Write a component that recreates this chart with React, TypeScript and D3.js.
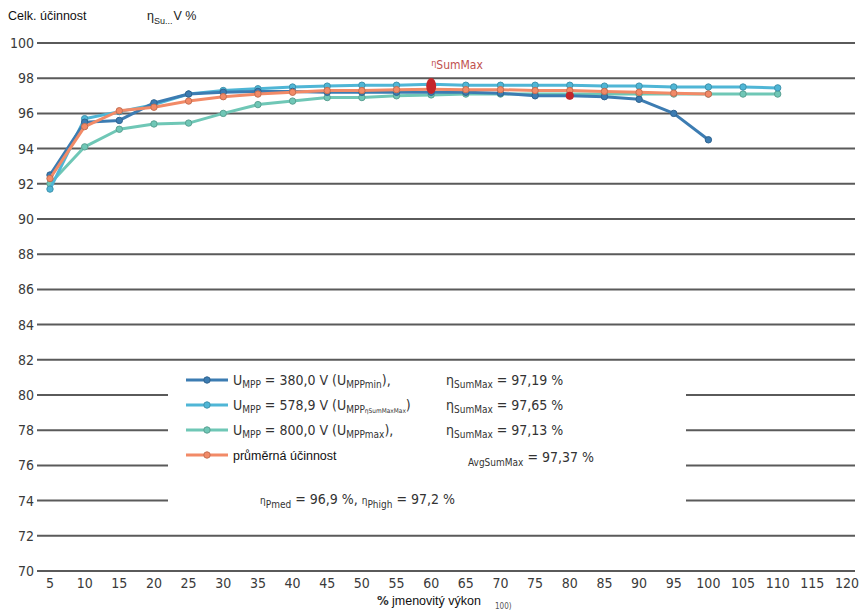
import React from "react";
import * as d3 from "d3";

// zatížení v % jmenovitého výkonu
const loads = [5, 10, 15, 20, 25, 30, 35, 40, 45, 50, 55, 60, 65, 70, 75, 80, 85, 90, 95, 100, 105, 110];
const xTicks = [5, 10, 15, 20, 25, 30, 35, 40, 45, 50, 55, 60, 65, 70, 75, 80, 85, 90, 95, 100, 105, 110, 115, 120];
const yTicks = [70, 72, 74, 76, 78, 80, 82, 84, 86, 88, 90, 92, 94, 96, 98, 100];

// U_MPP = 380,0 V
const eff380 = [92.5, 95.5, 95.6, 96.6, 97.1, 97.2, 97.25, 97.25, 97.2, 97.2, 97.2, 97.2, 97.2, 97.15, 97.0, 97.0, 96.95, 96.8, 96.0, 94.5];
// U_MPP = 578,9 V
const eff579 = [91.7, 95.7, 96.1, 96.5, 97.1, 97.3, 97.4, 97.5, 97.55, 97.6, 97.6, 97.65, 97.6, 97.6, 97.6, 97.6, 97.55, 97.55, 97.5, 97.5, 97.5, 97.45];
// U_MPP = 800,0 V
const eff800 = [92.0, 94.1, 95.1, 95.4, 95.45, 96.0, 96.5, 96.7, 96.9, 96.9, 97.0, 97.05, 97.1, 97.1, 97.1, 97.1, 97.1, 97.1, 97.1, 97.1, 97.1, 97.1];
// průměrná účinnost
const effAvg = [92.3, 95.25, 96.15, 96.35, 96.7, 96.95, 97.1, 97.2, 97.3, 97.3, 97.35, 97.37, 97.35, 97.35, 97.3, 97.3, 97.25, 97.2, 97.15, 97.1];

const maxPoints = [
  { load: 60, value: 97.55, rx: 5, ry: 8 },
  { load: 80, value: 97.0, rx: 4, ry: 4 },
];

const W = 861;
const H = 611;
const tickFont = "'DejaVu Sans Condensed', 'Liberation Sans Narrow', sans-serif";
const arial = "'Liberation Sans', Arial, sans-serif";

const series = [
  { key: "800", values: eff800, color: "#6fc7b6" },
  { key: "579", values: eff579, color: "#4fb6d6" },
  { key: "380", values: eff380, color: "#3c7cb2" },
  { key: "avg", values: effAvg, color: "#f28a67" },
];

function Marker({ cx, cy, color }: { cx: number; cy: number; color: string }) {
  return (
    <circle cx={cx} cy={cy} r={3.2} fill={color} stroke={d3.color(color)!.darker(0.6).toString()} strokeWidth={1} />
  );
}

export default function App() {
  const x = d3.scaleLinear().domain([5, 120]).range([50, 847]);
  const y = d3.scaleLinear().domain([70, 100]).range([571, 43]);

  const line = d3
    .line<number>()
    .x((_, i) => x(loads[i]))
    .y((d) => y(d));

  const legendRows = [
    { color: "#3c7cb2", y: 385 },
    { color: "#4fb6d6", y: 410 },
    { color: "#6fc7b6", y: 435 },
    { color: "#f28a67", y: 460 },
  ];
  const sub = { fontSize: 10 };

  return (
    <svg width={W} height={H} style={{ position: "absolute", left: 0, top: 0, background: "#fff" }}>
      {/* titulek osy y */}
      <text x={8} y={20} fontFamily={arial} fontSize={12.5} fill="#111">
        Celk. účinnost
      </text>
      <text x={147} y={20} fontFamily={arial} fontSize={12.5} fill="#222">
        <tspan>η</tspan>
        <tspan dy={4} fontSize={9}>Su...</tspan>
        <tspan dy={-4} dx={1}>V %</tspan>
      </text>

      {/* mřížka */}
      <g>
        {yTicks.map((t) => (
          <g key={t}>
            <line x1={37} x2={855} y1={y(t)} y2={y(t)} stroke="#5a5a5a" strokeWidth={2} />
            <text x={34} y={y(t) + 5} textAnchor="end" fontFamily={tickFont} fontSize={14} fill="#3a3a3a">
              {t}
            </text>
          </g>
        ))}
      </g>

      {/* osa x */}
      <g>
        {xTicks.map((t) => (
          <text key={t} x={x(t)} y={588} textAnchor="middle" fontFamily={tickFont} fontSize={14} fill="#3a3a3a">
            {t}
          </text>
        ))}
        <text x={377} y={605} fontFamily={tickFont} fontSize={13} fontWeight="bold" fill="#333">
          %
        </text>
        <text x={392} y={605} fontFamily={arial} fontSize={12.5} fill="#111">
          jmenovitý výkon
        </text>
        <text x={495} y={609} fontFamily={tickFont} fontSize={8} fill="#555">
          100)
        </text>
      </g>

      {/* křivky */}
      <g>
        {series.map((s) => (
          <g key={s.key}>
            <path d={line(s.values) ?? ""} fill="none" stroke={s.color} strokeWidth={3} strokeLinejoin="round" />
            {s.values.map((v, i) => (
              <Marker key={i} cx={x(loads[i])} cy={y(v)} color={s.color} />
            ))}
          </g>
        ))}
        {maxPoints.map((p) => (
          <ellipse key={p.load} cx={x(p.load)} cy={y(p.value)} rx={p.rx} ry={p.ry} fill="#c4262a" />
        ))}
        <text x={x(60)} y={y(98.55)} fontFamily={tickFont} fontSize={12} fill="#c0504d">
          <tspan fontSize={9} dy={-3}>η</tspan>
          <tspan dy={3}>SumMax</tspan>
        </text>
      </g>

      {/* legenda */}
      <rect x={168} y={376} width={518} height={135} fill="#fff" />
      <g fontFamily={tickFont} fontSize={14} fill="#333">
        {legendRows.map((r) => (
          <g key={r.y}>
            <line x1={186} x2={228} y1={r.y - 5} y2={r.y - 5} stroke={r.color} strokeWidth={3} />
            <Marker cx={207} cy={r.y - 5} color={r.color} />
          </g>
        ))}
        <text x={233} y={385}>
          U<tspan dy={3} style={sub}>MPP</tspan>
          <tspan dy={-3}> = 380,0 V (U</tspan>
          <tspan dy={3} style={sub}>MPPmin</tspan>
          <tspan dy={-3}>),</tspan>
        </text>
        <text x={233} y={410}>
          U<tspan dy={3} style={sub}>MPP</tspan>
          <tspan dy={-3}> = 578,9 V (U</tspan>
          <tspan dy={3} style={sub}>MPP</tspan>
          <tspan fontSize={6.5}>ηSumMaxMax</tspan>
          <tspan dy={-3}>)</tspan>
        </text>
        <text x={233} y={435}>
          U<tspan dy={3} style={sub}>MPP</tspan>
          <tspan dy={-3}> = 800,0 V (U</tspan>
          <tspan dy={3} style={sub}>MPPmax</tspan>
          <tspan dy={-3}>),</tspan>
        </text>
        <text x={233} y={460} fontFamily={arial} fontSize={12.5} fill="#111">
          průměrná účinnost
        </text>

        {[
          { y: 385, v: "97,19 %" },
          { y: 410, v: "97,65 %" },
          { y: 435, v: "97,13 %" },
        ].map((r) => (
          <text key={r.y} x={446} y={r.y}>
            η<tspan dy={3} style={sub}>SumMax</tspan>
            <tspan dy={-3}> = {r.v}</tspan>
          </text>
        ))}
        <text x={468} y={466}>
          <tspan style={sub}>AvgSumMax</tspan>
          <tspan dy={-4}> = 97,37 %</tspan>
        </text>
        <text x={260} y={504}>
          <tspan style={sub}>η</tspan>
          <tspan dy={4} style={sub}>Pmed</tspan>
          <tspan dy={-4}>  = 96,9 %, </tspan>
          <tspan style={sub}>η</tspan>
          <tspan dy={4} style={sub}>Phigh</tspan>
          <tspan dy={-4}> = 97,2 %</tspan>
        </text>
      </g>
    </svg>
  );
}
